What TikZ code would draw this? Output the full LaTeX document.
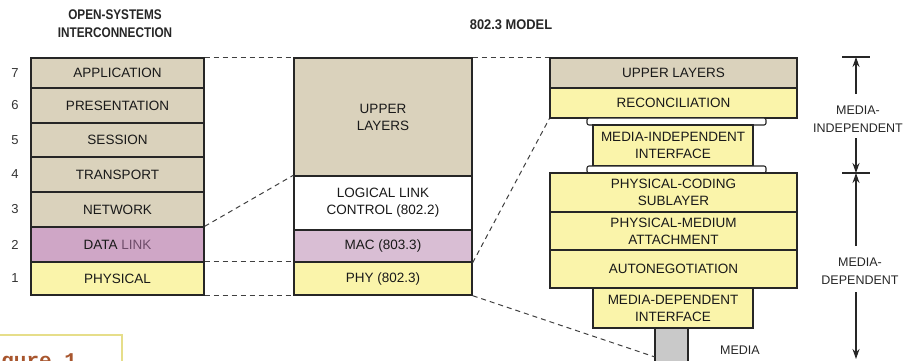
\documentclass[tikz,border=0pt]{standalone}
\usepackage{fontspec}
\usepackage{graphicx}
\setmainfont{Liberation Sans}
\setmonofont{Liberation Mono}
\usetikzlibrary{arrows.meta}
\definecolor{tanc}{HTML}{DAD2BC}
\definecolor{mauve}{HTML}{CFA6C6}
\definecolor{mauvelt}{HTML}{D9BED4}
\definecolor{yel}{HTML}{FAF4AA}
\definecolor{medgrey}{HTML}{C9C9C9}
\definecolor{linkc}{HTML}{6E4C6A}
\definecolor{figborder}{HTML}{E6DE8A}
\definecolor{figbrown}{HTML}{A8562E}
\newcommand{\narrowtxt}[2]{\scalebox{#1}[1]{#2}}
\begin{document}
\begin{tikzpicture}[x=1pt,y=-1pt,
  lay/.style={draw=black!85, line width=1.4pt, inner sep=0pt, align=center,
    font=\fontsize{13.5}{17}\selectfont, text=black!90},
  num/.style={font=\fontsize{13}{15}\selectfont, text=black!80, inner sep=0pt},
  ttl/.style={font=\bfseries\fontsize{14}{18}\selectfont, align=center, inner sep=0pt, text=black!85},
  ann/.style={font=\fontsize{12.5}{18}\selectfont, align=center, inner sep=0pt, text=black!85},
  conn/.style={draw=black!75, line width=1pt, dash pattern=on 5pt off 4pt},
  arr/.style={draw=black!85, line width=1.1pt, -{Stealth[length=10pt,width=7pt]}},
  tickl/.style={draw=black!85, line width=1.1pt},
  plate/.style={draw=black!85, line width=1.1pt, fill=white, rounded corners=2pt}]
\useasboundingbox (0,0) rectangle (913,360);
\clip (0,0) rectangle (913,360);

% titles
\node[ttl] (osit) at (115,24) {\narrowtxt{0.84}{OPEN-SYSTEMS}\\\narrowtxt{0.84}{INTERCONNECTION}};
\node[ttl] (modt) at (511,25) {\narrowtxt{0.92}{802.3 MODEL}};

% OSI stack
\node[lay, fill=tanc, minimum width=173pt, minimum height=30pt] (app) at (117.5,73) {APPLICATION};
\node[lay, fill=tanc, minimum width=173pt, minimum height=35pt] (pres) at (117.5,105.5) {PRESENTATION};
\node[lay, fill=tanc, minimum width=173pt, minimum height=34pt] (sess) at (117.5,140) {SESSION};
\node[lay, fill=tanc, minimum width=173pt, minimum height=35pt] (trans) at (117.5,174.5) {TRANSPORT};
\node[lay, fill=tanc, minimum width=173pt, minimum height=35pt] (net) at (117.5,209.5) {NETWORK};
\node[lay, fill=mauve, minimum width=173pt, minimum height=35pt] (dl) at (117.5,244.5) {DATA \textcolor{linkc}{LINK}};
\node[lay, fill=yel, minimum width=173pt, minimum height=33pt] (phys) at (117.5,278.5) {PHYSICAL};

\node[num] (n7) at (15,73) {7};
\node[num] (n6) at (15,105.5) {6};
\node[num] (n5) at (15,140) {5};
\node[num] (n4) at (15,174.5) {4};
\node[num] (n3) at (15,209.5) {3};
\node[num] (n2) at (15,244.5) {2};
\node[num] (n1) at (15,278.5) {1};

% 802.3 stack
\node[lay, fill=tanc, minimum width=178pt, minimum height=118pt] (mup) at (383,117) {UPPER\\LAYERS};
\node[lay, fill=white, minimum width=178pt, minimum height=54pt] (llc) at (383,203) {LOGICAL LINK\\CONTROL (802.2)};
\node[lay, fill=mauvelt, minimum width=178pt, minimum height=32pt] (mac) at (383,246) {MAC (803.3)};
\node[lay, fill=yel, minimum width=178pt, minimum height=33pt] (phy) at (383,278.5) {PHY (802.3)};

% detailed stack
\node[lay, fill=tanc, minimum width=247pt, minimum height=30pt] (rup) at (673.5,73) {UPPER LAYERS};
\node[lay, fill=yel, minimum width=247pt, minimum height=30pt] (rec) at (673.5,103) {RECONCILIATION};
\node[plate, minimum width=179pt, minimum height=7pt, inner sep=0pt] (pl1) at (676.5,121.5) {};
\node[lay, fill=yel, minimum width=160pt, minimum height=41pt] (mii) at (673,145.5) {MEDIA-INDEPENDENT\\INTERFACE};
\node[plate, minimum width=179pt, minimum height=7pt, inner sep=0pt] (pl2) at (676.5,169.5) {};
\node[lay, fill=yel, minimum width=247pt, minimum height=39pt] (pcs) at (673.5,192.5) {PHYSICAL-CODING\\SUBLAYER};
\node[lay, fill=yel, minimum width=247pt, minimum height=38pt] (pma) at (673.5,231) {PHYSICAL-MEDIUM\\ATTACHMENT};
\node[lay, fill=yel, minimum width=247pt, minimum height=38pt] (auto) at (673.5,269) {AUTONEGOTIATION};
\node[lay, fill=yel, minimum width=160pt, minimum height=40pt] (mdi) at (673,308) {MEDIA-DEPENDENT\\INTERFACE};
\node[draw=black!85, line width=1.2pt, fill=medgrey, minimum width=33pt, minimum height=40pt, inner sep=0pt] (media) at (671.5,348) {};
\node[ann] (medial) at (740,350) {MEDIA};
\coordinate (medend) at (655,357);

% dashed connectors
\draw[conn] (app.north east) -- (mup.north west);
\draw[conn] (dl.north east) -- (llc.north west);
\draw[conn] (phys.north east) -- (phy.north west);
\draw[conn] (phys.south east) -- (phy.south west);
\draw[conn] (mup.north east) -- (rup.north west);
\draw[conn] (mac.south east) -- (rec.south west);
\draw[conn] (phy.south east) -- (medend);

% right annotations
\node[ann] (mind) at (858,119) {MEDIA-\\INDEPENDENT};
\node[ann] (mdep) at (860,271) {MEDIA-\\DEPENDENT};
\coordinate (t1) at (856,57);
\coordinate (t2) at (856,173);
\coordinate (a1) at (856,94);
\coordinate (a2) at (856,138);
\coordinate (a3) at (856,246);
\coordinate (a4) at (856,292);
\coordinate (bot) at (856,359);
\draw[tickl] (842,57) -- (870,57);
\draw[tickl] (842,173) -- (870,173);
\draw[arr] (a1) -- (t1);
\draw[arr] (a2) -- (t2);
\draw[arr] (a3) -- (t2);
\draw[arr] (a4) -- (bot);

% figure tag (cropped at the page edge, as in the reference)
\draw[draw=figborder, line width=1.6pt, fill=white] (-5,335) rectangle (122,375);
\node[anchor=base west, inner sep=0pt, text=figbrown, font=\ttfamily\bfseries\fontsize{21}{21}\selectfont] (fig) at (-24,367) {Figure 1};
\end{tikzpicture}
\end{document}
